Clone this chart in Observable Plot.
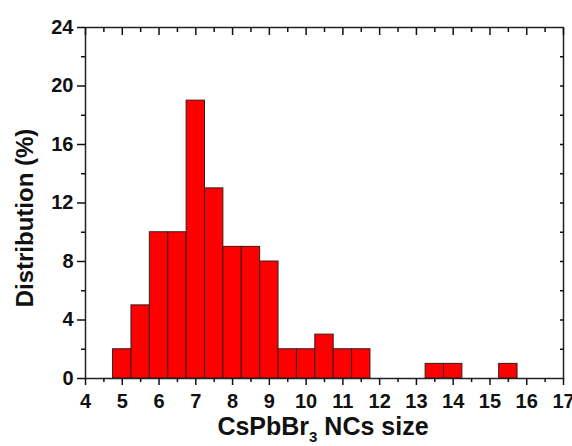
<!DOCTYPE html>
<html><head><meta charset="utf-8">
<script src="https://cdn.jsdelivr.net/npm/d3@7"></script>
<script src="https://cdn.jsdelivr.net/npm/@observablehq/plot@0.6"></script>
<style>body{margin:0;background:#fff}#chart{width:572px;height:446px}</style>
</head><body><div id="chart"></div>
<script>
// Bin centres (nm) and percentage of NCs in each 0.5 nm bin
const binCenters = [5, 5.5, 6, 6.5, 7, 7.5, 8, 8.5, 9, 9.5, 10, 10.5, 11, 11.5, 13.5, 14, 15.5];
const percents   = [2, 5, 10, 10, 19, 13, 9, 9, 8, 2, 2, 3, 2, 2, 1, 1, 1];
const binWidth = 0.5;
const xMajorTicks = [4,5,6,7,8,9,10,11,12,13,14,15,16,17];
const xMinorTicks = [4.5,5.5,6.5,7.5,8.5,9.5,10.5,11.5,12.5,13.5,14.5,15.5,16.5];
const yMajorTicks = [0,4,8,12,16,20,24];
const yMinorTicks = [2,6,10,14,18,22];
const yRightTicks = [2,4,6,8,10,12,14,16,18,20,22];
const xTitle = ["CsPbBr", "3", " NCs size"];
const yTitle = "Distribution (%)";

const bins = binCenters.map((c, i) => ({x1: c - binWidth/2, x2: c + binWidth/2, y: percents[i]}));
const font = "'Liberation Sans', Arial, sans-serif";
const blank = () => "";

const chart = Plot.plot({
  width: 572, height: 446,
  marginLeft: 85, marginRight: 9, marginTop: 27, marginBottom: 68,
  style: {background: "#fff", color: "#111", fontFamily: font, fontWeight: "bold", fontSize: "20px"},
  x: {domain: [4, 17]},
  y: {domain: [0, 24]},
  marks: [
    Plot.rectY(bins, {x1: "x1", x2: "x2", y1: 0, y2: "y", fill: "#ff0000", stroke: "#3a1a1a", strokeWidth: 1}),
    Plot.frame({stroke: "#222", strokeWidth: 1.5}),
    Plot.axisX(xMajorTicks, {anchor: "bottom", tickSize: 7, tickPadding: 8, strokeWidth: 1.5, fontSize: 20, fontWeight: "bold", fill: "#111", label: null}),
    Plot.axisX(xMinorTicks, {anchor: "bottom", tickSize: 4, strokeWidth: 1.5, tickFormat: blank, label: null}),
    Plot.axisX(xMajorTicks, {anchor: "top", tickSize: -7, strokeWidth: 1.5, tickFormat: blank, label: null}),
    Plot.axisX(xMinorTicks, {anchor: "top", tickSize: -4, strokeWidth: 1.5, tickFormat: blank, label: null}),
    Plot.axisY(yMajorTicks, {anchor: "left", tickSize: 8, tickPadding: 4, strokeWidth: 1.5, fontSize: 20, fontWeight: "bold", fill: "#111", label: null}),
    Plot.axisY(yMinorTicks, {anchor: "left", tickSize: 4, strokeWidth: 1.5, tickFormat: blank, label: null}),
    Plot.axisY(yRightTicks, {anchor: "right", tickSize: -4, strokeWidth: 1.5, tickFormat: blank, label: null})
  ]
});

const svg = d3.select(chart);
const xt = svg.append("text")
  .attr("x", 323).attr("y", 435)
  .attr("text-anchor", "middle")
  .attr("font-family", font).attr("font-weight", "bold").attr("font-size", 25).attr("fill", "#111");
xt.append("tspan").text(xTitle[0]);
xt.append("tspan").attr("font-size", 15).attr("dy", 7).text(xTitle[1]);
xt.append("tspan").attr("dy", -7).text(xTitle[2]);

svg.append("text")
  .attr("transform", "translate(33,218) rotate(-90)")
  .attr("text-anchor", "middle")
  .attr("font-family", font).attr("font-weight", "bold").attr("font-size", 24).attr("fill", "#111")
  .text(yTitle);

document.getElementById("chart").append(chart);
</script>
</body></html>
